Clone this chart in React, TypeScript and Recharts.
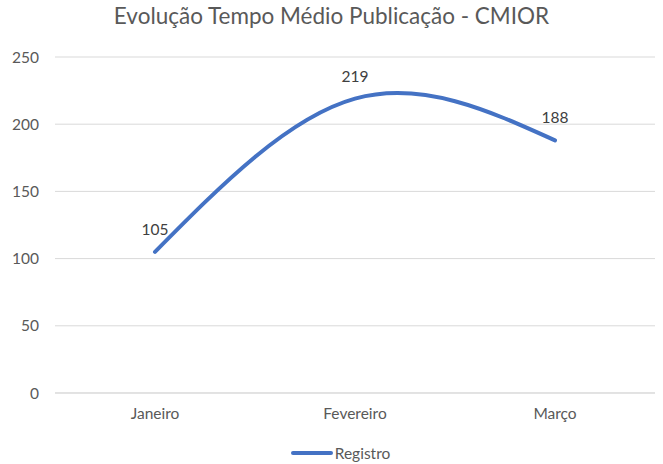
import React from 'react'
import { LineChart, Line, XAxis, YAxis, CartesianGrid, LabelList, Legend } from 'recharts'

const months = ['Janeiro', 'Fevereiro', 'Março']
const registro = [105, 219, 188]
const yTicks = [0, 50, 100, 150, 200, 250]

const data = months.map((m, i) => ({ month: m, Registro: registro[i] }))

const FONT = 'Lato, "Open Sans", sans-serif'
const TEXT = '#595959'

function LegendContent() {
  return (
    <div style={{ display: 'flex', justifyContent: 'center', alignItems: 'center', paddingLeft: 16, fontFamily: FONT, fontSize: 15.5, color: TEXT }}>
      <svg width={42} height={10}>
        <line x1={2} y1={5} x2={40} y2={5} stroke="#4472c4" strokeWidth={4} strokeLinecap="round" />
      </svg>
      <span style={{ marginLeft: 2 }}>Registro</span>
    </div>
  )
}

export default function App() {
  return (
    <div style={{ position: 'absolute', top: 0, left: 0, width: 663, height: 464, background: '#fff' }}>
      <div style={{ position: 'absolute', top: 2, left: 0, width: 663, textAlign: 'center', fontFamily: FONT, fontSize: 22.5, color: TEXT }}>
        Evolução Tempo Médio Publicação - CMIOR
      </div>
      <LineChart width={663} height={464} data={data} margin={{ top: 57, right: 8, bottom: 23, left: 10 }}>
        <CartesianGrid vertical={false} stroke="#d9d9d9" />
        <XAxis
          dataKey="month"
          padding={{ left: 100, right: 100 }}
          axisLine={{ stroke: '#d9d9d9' }}
          tickLine={false}
          tickMargin={9}
          tick={{ fontSize: 15.5, fill: TEXT, fontFamily: FONT }}
        />
        <YAxis
          width={45}
          domain={[0, 250]}
          ticks={yTicks}
          axisLine={false}
          tickLine={false}
          tickMargin={10}
          tick={{ fontSize: 15.5, fill: TEXT, fontFamily: FONT }}
        />
        <Legend verticalAlign="bottom" content={<LegendContent />} wrapperStyle={{ bottom: 2 }} />
        <Line
          type="natural"
          dataKey="Registro"
          stroke="#4472c4"
          strokeWidth={4}
          strokeLinecap="round"
          dot={false}
          isAnimationActive={false}
        >
          <LabelList dataKey="Registro" position="top" offset={17} style={{ fontSize: 15.5, fill: '#404040', fontFamily: FONT }} />
        </Line>
      </LineChart>
    </div>
  )
}
